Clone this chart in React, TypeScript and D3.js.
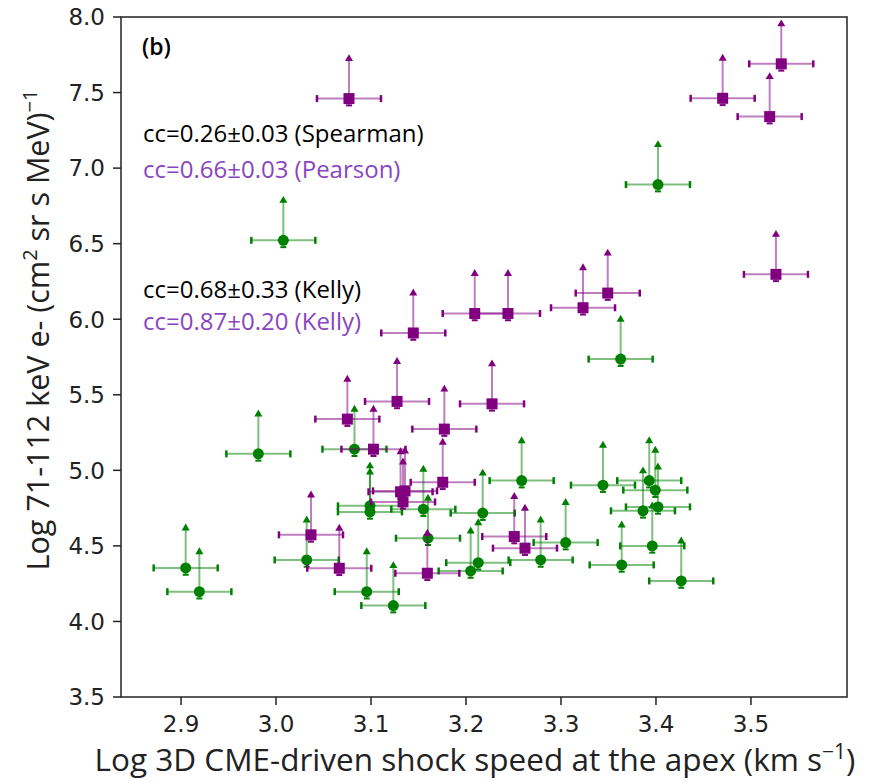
import React from "react";
import * as d3 from "d3";

// Green series (circles)
const greenX = [3.0077, 3.4021, 3.3628, 2.9814, 3.0826, 3.2586, 3.0989, 3.0989, 3.1551, 3.2176, 3.16, 2.9049, 2.9193, 3.0323, 3.0955, 3.1235, 3.2129, 3.2049, 3.2786, 3.3442, 3.3929, 3.3993, 3.4021, 3.3863, 3.3049, 3.3961, 3.3639, 3.4266];
const greenY = [6.522, 6.891, 5.736, 5.109, 5.14, 4.932, 4.765, 4.725, 4.743, 4.717, 4.551, 4.354, 4.197, 4.407, 4.197, 4.105, 4.389, 4.334, 4.407, 4.902, 4.932, 4.869, 4.758, 4.732, 4.522, 4.5, 4.374, 4.268];

// Purple series (squares)
const purpleX = [3.0768, 3.4702, 3.5319, 3.5197, 3.5263, 3.1445, 3.2092, 3.2442, 3.3232, 3.3492, 3.1274, 3.2274, 3.0751, 3.1772, 3.1026, 3.1755, 3.1311, 3.1358, 3.1337, 3.0368, 3.2508, 3.2621, 3.0666, 3.1593];
const purpleY = [7.46, 7.462, 7.69, 7.341, 6.297, 5.909, 6.038, 6.038, 6.076, 6.173, 5.456, 5.44, 5.339, 5.273, 5.14, 4.921, 4.858, 4.864, 4.791, 4.573, 4.562, 4.485, 4.352, 4.319];

const xTicks = [2.9, 3.0, 3.1, 3.2, 3.3, 3.4, 3.5];
const yTicks = [3.5, 4.0, 4.5, 5.0, 5.5, 6.0, 6.5, 7.0, 7.5, 8.0];

const X_ERR = 0.0337;
const Y_UP = 0.27;
const Y_DOWN = 0.045;

const GREEN = "#008000";
const PURPLE = "#800080";
const TEXT_PURPLE = "#8a45c0";

const W = 886;
const H = 782;
const L = 121, R = 847, T = 17, B = 697;

const x = d3.scaleLinear().domain([2.8368, 3.6011]).range([L, R]);
const y = d3.scaleLinear().domain([3.5, 8.0]).range([B, T]);

function Point({ vx, vy, color, shape }: { vx: number; vy: number; color: string; shape: string }) {
  const cx = x(vx), cy = y(vy);
  const x0 = x(vx - X_ERR), x1 = x(vx + X_ERR);
  const yTop = y(vy + Y_UP), yBot = y(vy - Y_DOWN);
  const tri = d3.symbol().type(d3.symbolTriangle).size(28)();
  return (
    <g>
      <line x1={x0} x2={x1} y1={cy} y2={cy} stroke={color} strokeWidth={2} strokeOpacity={0.5} />
      <line x1={cx} x2={cx} y1={yBot} y2={yTop} stroke={color} strokeWidth={2} strokeOpacity={0.5} />
      <line x1={x0} x2={x0} y1={cy - 3.5} y2={cy + 3.5} stroke={color} strokeWidth={2.5} />
      <line x1={x1} x2={x1} y1={cy - 3.5} y2={cy + 3.5} stroke={color} strokeWidth={2.5} />
      <line x1={cx - 3} x2={cx + 3} y1={yBot} y2={yBot} stroke={color} strokeWidth={2} />
      <path d={tri || ""} transform={`translate(${cx},${yTop + 1})`} fill={color} />
      {shape === "circle" ? (
        <circle cx={cx} cy={cy} r={5.5} fill={color} />
      ) : (
        <rect x={cx - 5.5} y={cy - 5.5} width={11} height={11} fill={color} />
      )}
    </g>
  );
}

export default function App() {
  const tickFont = "DejaVu Sans, sans-serif";
  const labelFont = "Open Sans, sans-serif";
  return (
    <svg width={W} height={H} style={{ position: "absolute", left: 0, top: 0, background: "#fff" }}>
      <rect x={0} y={0} width={W} height={H} fill="#fff" />
      {/* y ticks */}
      {yTicks.map((t) => (
        <g key={"y" + t}>
          <line x1={L - 8} x2={L} y1={y(t)} y2={y(t)} stroke="#222" strokeWidth={1.5} />
          <text x={L - 16} y={y(t)} dy="0.36em" textAnchor="end" fontFamily={tickFont} fontSize={23} fill="#222">
            {t.toFixed(1)}
          </text>
        </g>
      ))}
      {/* x ticks */}
      {xTicks.map((t) => (
        <g key={"x" + t}>
          <line x1={x(t)} x2={x(t)} y1={B} y2={B + 8} stroke="#222" strokeWidth={1.5} />
          <text x={x(t)} y={B + 35} textAnchor="middle" fontFamily={tickFont} fontSize={23} fill="#222">
            {t.toFixed(1)}
          </text>
        </g>
      ))}
      {/* data */}
      {greenX.map((vx, i) => (
        <Point key={"g" + i} vx={vx} vy={greenY[i]} color={GREEN} shape="circle" />
      ))}
      {purpleX.map((vx, i) => (
        <Point key={"p" + i} vx={vx} vy={purpleY[i]} color={PURPLE} shape="square" />
      ))}
      {/* frame */}
      <rect x={L} y={T} width={R - L} height={B - T} fill="none" stroke="#222" strokeWidth={1.5} />
      {/* annotations */}
      <text x={142} y={55} fontFamily={labelFont} fontSize={23} fontWeight={600} fill="#000">(b)</text>
      <text x={143} y={142} fontFamily={labelFont} fontSize={24} fill="#000">cc=0.26±0.03 (Spearman)</text>
      <text x={143} y={178} fontFamily={labelFont} fontSize={24} fill={TEXT_PURPLE}>cc=0.66±0.03 (Pearson)</text>
      <text x={143} y={298} fontFamily={labelFont} fontSize={24} fill="#000">cc=0.68±0.33 (Kelly)</text>
      <text x={143} y={330} fontFamily={labelFont} fontSize={24} fill={TEXT_PURPLE}>cc=0.87±0.20 (Kelly)</text>
      {/* axis labels */}
      <text x={475} y={771} textAnchor="middle" fontFamily={labelFont} fontSize={31.5} fill="#222">
        Log 3D CME-driven shock speed at the apex (km s
        <tspan dy={-12} fontSize={21}>−1</tspan>
        <tspan dy={12}>)</tspan>
      </text>
      <text
        transform={`translate(49, 330) rotate(-90)`}
        textAnchor="middle"
        fontFamily={labelFont}
        fontSize={30.5}
        fill="#222"
      >
        Log 71-112 keV e- (cm
        <tspan dy={-12} fontSize={20}>2</tspan>
        <tspan dy={12}> sr s MeV)</tspan>
        <tspan dy={-12} fontSize={20}>−1</tspan>
      </text>
    </svg>
  );
}
